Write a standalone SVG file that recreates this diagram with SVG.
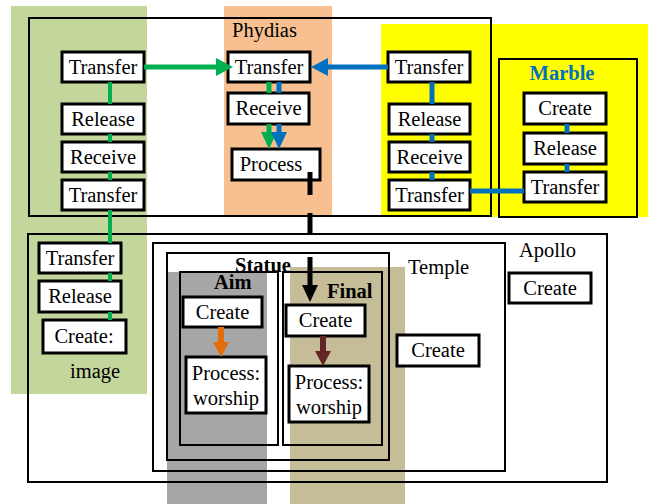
<svg xmlns="http://www.w3.org/2000/svg" width="648" height="504" viewBox="0 0 648 504" font-family="'Liberation Serif', 'Times New Roman', Times, 'DejaVu Serif', serif">
<style>
.box{fill:none;stroke:#000;stroke-width:2}
.node rect{fill:#fff;stroke:#000;stroke-width:3}
text{font-family:'Liberation Serif','Times New Roman',Times,'DejaVu Serif',serif;font-size:20.5px;fill:#000}
.node text{text-anchor:middle}
.b{font-weight:bold}
.g{stroke:#00b050;fill:none}
.bl{stroke:#0070c0;fill:none}
</style>
<rect width="648" height="504" fill="#fff"/>
<g id="bands">
<rect x="11" y="6" width="136" height="388" fill="#c3d69b"/>
<rect x="224" y="6" width="108" height="211" fill="#f8c090"/>
<rect x="381" y="24" width="267" height="193" fill="#ffff00"/>
<rect x="167" y="272" width="100" height="232" fill="#a6a6a6"/>
<rect x="290" y="267" width="115" height="237" fill="#c4bd97"/>
</g>
<g id="containers">
<rect id="phydias-box" class="box" x="29" y="18" width="462" height="198"/>
<text x="232" y="37">Phydias</text>
<rect id="marble-box" class="box" x="499" y="59" width="138" height="158"/>
<text x="562" y="80" class="b" text-anchor="middle" style="fill:#0070c0">Marble</text>
<rect id="apollo-box" class="box" x="28" y="234" width="579" height="248"/>
<text x="519" y="257">Apollo</text>
<rect id="temple-box" class="box" x="153" y="243" width="352" height="228"/>
<text x="408" y="274">Temple</text>
<rect id="statue-box" class="box" x="167" y="253" width="222" height="207"/>
<text x="263" y="272" class="b" text-anchor="middle">Statue</text>
<rect id="aim-box" class="box" x="180" y="272" width="98" height="173"/>
<text x="214" y="289" class="b">Aim</text>
<rect id="final-box" class="box" x="283" y="272" width="99" height="173"/>
<text x="327" y="298" class="b">Final</text>
</g>
<g id="nodes">
<g id="l-transfer1" class="node"><rect x="62" y="52" width="82" height="30"/><text x="103" y="74">Transfer</text></g>
<g id="l-release" class="node"><rect x="62" y="104" width="82" height="30"/><text x="103" y="126">Release</text></g>
<g id="l-receive" class="node"><rect x="62" y="142" width="82" height="30"/><text x="103" y="164">Receive</text></g>
<g id="l-transfer2" class="node"><rect x="62" y="180" width="82" height="30"/><text x="103" y="202">Transfer</text></g>
<g id="p-transfer" class="node"><rect x="228" y="52" width="82" height="30"/><text x="269" y="74">Transfer</text></g>
<g id="p-receive" class="node"><rect x="228" y="93" width="81" height="31"/><text x="268.5" y="115">Receive</text></g>
<g id="p-process" class="node"><rect x="232" y="149" width="88" height="31"/><text x="271" y="171">Process</text></g>
<g id="r-transfer1" class="node"><rect x="388" y="52" width="82" height="30"/><text x="429" y="74">Transfer</text></g>
<g id="r-release" class="node"><rect x="389" y="104" width="81" height="30"/><text x="429.5" y="126">Release</text></g>
<g id="r-receive" class="node"><rect x="389" y="142" width="81" height="30"/><text x="429.5" y="164">Receive</text></g>
<g id="r-transfer2" class="node"><rect x="389" y="180" width="81" height="30"/><text x="429.5" y="202">Transfer</text></g>
<g id="m-create" class="node"><rect x="524" y="93" width="82" height="31"/><text x="565" y="115">Create</text></g>
<g id="m-release" class="node"><rect x="524" y="133" width="82" height="31"/><text x="565" y="155">Release</text></g>
<g id="m-transfer" class="node"><rect x="524" y="172" width="82" height="30"/><text x="565" y="194">Transfer</text></g>
<g id="a-transfer" class="node"><rect x="39" y="243" width="82" height="30"/><text x="80" y="265">Transfer</text></g>
<g id="a-release" class="node"><rect x="39" y="281" width="82" height="31"/><text x="80" y="303">Release</text></g>
<g id="a-create" class="node"><rect x="43" y="320" width="83" height="33"/><text x="84" y="343">Create:</text></g>
<text x="70" y="378">image</text>
<g id="apollo-create" class="node"><rect x="509" y="273" width="82" height="30"/><text x="550" y="295">Create</text></g>
<g id="temple-create" class="node"><rect x="397" y="335" width="82" height="31"/><text x="438" y="357">Create</text></g>
<g id="aim-create" class="node"><rect x="183" y="297" width="79" height="30"/><text x="222.5" y="319">Create</text></g>
<g id="aim-process" class="node"><rect x="186" y="357" width="80" height="56"/><text x="226" y="380">Process:</text><text x="226" y="405">worship</text></g>
<g id="final-create" class="node"><rect x="286" y="305" width="79" height="31"/><text x="325.5" y="327">Create</text></g>
<g id="final-process" class="node"><rect x="289" y="366" width="80" height="56"/><text x="329" y="389">Process:</text><text x="329" y="414">worship</text></g>
</g>
<g id="connectors">
<path class="g" stroke-width="4" d="M110 82V104M110 134V142M110 172V180M110 210V243M110 273V281M110 312V320"/>
<path class="g" stroke-width="5" d="M144 67H218"/>
<polygon points="216,58 233,67 216,76" fill="#00b050"/>
<path class="bl" stroke-width="5" d="M388 67H326"/>
<polygon points="328,58 311,67 328,76" fill="#0070c0"/>
<path class="g" stroke-width="5" d="M269 82V93M269 124V134"/>
<polygon points="261,132 277,132 269,149" fill="#00b050"/>
<path class="bl" stroke-width="5" d="M279 82V93M279 124V134"/>
<polygon points="271,132 287,132 279,149" fill="#0070c0"/>
<path class="bl" stroke-width="5" d="M432 82V104M432 134V142M432 172V180M567 124V133M567 164V172M470 191H524"/>
<path stroke="#000" stroke-width="5" fill="none" d="M310 172V195M310 213V235M310 257V287"/>
<polygon points="302,285 318,285 310,302" fill="#000"/>
<path stroke="#e46c0a" stroke-width="6" fill="none" d="M221 327V344"/>
<polygon points="213,342 229,342 221,357" fill="#e46c0a"/>
<path stroke="#632523" stroke-width="6" fill="none" d="M323 336V353"/>
<polygon points="315,351 331,351 323,366" fill="#632523"/>
</g>
</svg>
